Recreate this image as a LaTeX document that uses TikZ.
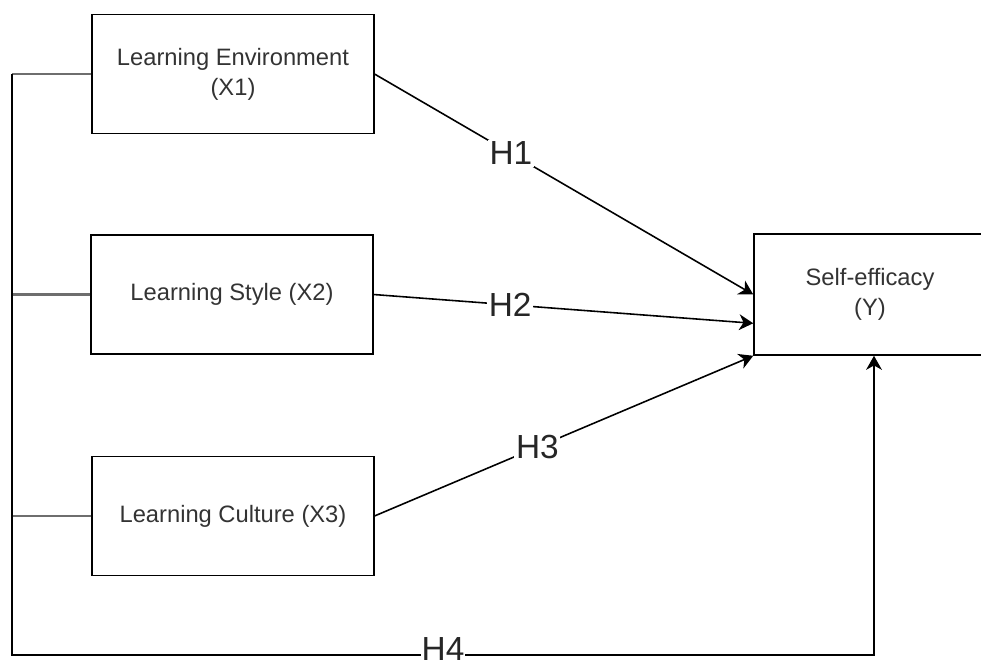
\documentclass[tikz,border=0pt]{standalone}
\usepackage{fontspec}
\setmainfont{Liberation Sans}
\usepackage{tikz}
\usetikzlibrary{arrows.meta,calc}
\definecolor{figtext}{RGB}{51,51,51}
\definecolor{figstub}{RGB}{110,110,110}
\newcommand{\boxW}{5.63cm}
\newcommand{\boxH}{2.38cm}
\tikzset{
  varbox/.style ={draw=black,line width=0.9pt,minimum width=\boxW,minimum height=\boxH,
                  align=center,text=figtext,font=\fontsize{13.5}{17}\selectfont,inner sep=0pt},
  ybox/.style   ={varbox,minimum width=4.64cm,minimum height=2.42cm},
  hline/.style  ={line width=0.9pt,black},
  harr/.style   ={hline,-{Stealth[length=8pt,width=9pt,inset=2.5pt]}},
  stub/.style   ={line width=1.2pt,figstub},
  hlab/.style   ={fill=white,inner sep=1pt,text=black!85,font=\fontsize{19}{22}\selectfont},
}
\begin{document}
\begin{tikzpicture}[x=0.02cm,y=-0.02cm]
  \useasboundingbox (0,0) rectangle (981,666);
  \node[varbox] (envX1) at (233,74) {Learning Environment\\(X1)};
  \node[varbox] (styleX2) at (232,294.5) {Learning Style (X2)};
  \node[varbox] (cultX3) at (233,516) {Learning Culture (X3)};
  \node[ybox] (effY) at (870,294.5) {Self-efficacy\\(Y)};
  \coordinate (trunk) at (12,655);
  \coordinate (hfoot) at (874,655);
  \draw[harr] (envX1.east) -- node[hlab,pos=0.36] {H1} (effY.west);
  \draw[harr] (styleX2.east) -- node[hlab,pos=0.36] {H2} ($(effY.west)!0.47!(effY.south west)$);
  \draw[harr] (cultX3.east) -- node[hlab,pos=0.43] {H3} (effY.south west);
  \draw[stub] (envX1.west) -- (envX1.west -| trunk);
  \draw[stub] (styleX2.west) -- (styleX2.west -| trunk);
  \draw[stub] (cultX3.west) -- (cultX3.west -| trunk);
  \draw[harr] (envX1.west -| trunk) -- (trunk) -- node[hlab,pos=0.5,inner sep=0.3pt,yshift=3.5pt] {H4} (hfoot) -- (hfoot |- effY.south);
\end{tikzpicture}
\end{document}
